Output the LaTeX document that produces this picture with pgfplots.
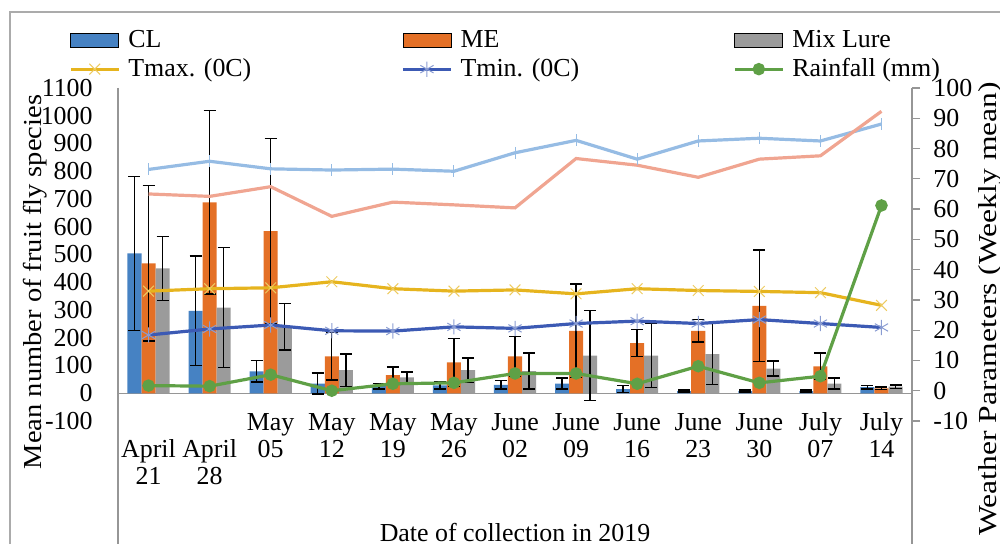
\documentclass[border=0pt]{standalone}
\usepackage{fontspec}
\setmainfont{Liberation Serif}
\usepackage{graphicx}
\usepackage{pgfplots}
\pgfplotsset{compat=1.18}
\definecolor{clblue}{RGB}{70,130,195}
\definecolor{meorange}{RGB}{228,112,38}
\definecolor{mixgray}{RGB}{155,155,155}
\definecolor{tmaxc}{RGB}{230,180,30}
\definecolor{tminc}{RGB}{60,90,180}
\definecolor{rainc}{RGB}{95,160,70}
\definecolor{lblue}{RGB}{150,188,228}
\definecolor{salmon}{RGB}{240,165,145}
\definecolor{axisgray}{RGB}{150,150,150}
\newcommand\ff{\fontsize{13}{13.5}\selectfont}
\pgfplotsset{
  barleg/.style={legend image code/.code={\fill[##1] (0bp,-3.5bp) rectangle (24bp,3.5bp);}},
  lineleg/.style={legend image code/.code={\draw[mark repeat=2,mark phase=2,##1] plot coordinates {(0bp,0bp) (12bp,0bp) (24bp,0bp)};}},
}
\pgfplotstableread{
x CL CLe ME MEe Mix Mixe
0 504 277 468 280 450 115
1 297 197 688 330 309 216
2 79 38 584 335 240 84
3 35 38 133 85 83 58
4 26 10 65 30 57 20
5 28 12 111 86 83 44
6 30 15 133 72 80 65
7 35 20 225 168 136 163
8 15 12 181 48 136 115
9 8 4 225 41 141 110
10 8 4 315 201 89 27
11 8 4 97 48 35 20
12 22 6 18 5 24 6
}\bars
\pgfplotstableread{
x Tmax Tmin Rain RHa RHb
0 32.9 18.4 1.7 73.1 65.0
1 33.7 20.4 1.5 75.8 64.2
2 34.0 21.7 5.3 73.3 67.4
3 36.0 19.8 0.0 72.9 57.6
4 33.7 19.7 2.3 73.2 62.3
5 32.9 21.1 2.6 72.5 61.4
6 33.3 20.6 5.7 78.6 60.4
7 32.0 22.2 5.7 82.7 76.7
8 33.7 23.0 2.3 76.5 74.5
9 33.1 22.2 8.1 82.5 70.5
10 32.8 23.5 2.6 83.4 76.5
11 32.4 22.2 4.8 82.5 77.6
12 28.2 20.9 61.2 88.1 92.3
}\weather
\begin{document}
\begin{tikzpicture}[x=1bp,y=1bp]
\path[use as bounding box] (0,0) rectangle (500,272);
\draw[axisgray!80, line width=0.6bp] (5,0) -- (5,266) -- (500,266);
\begin{axis}[name=ax1, at={(59bp,61.5bp)}, anchor=south west, scale only axis,
  width=397bp, height=166.5bp,
  xmin=-0.5, xmax=12.5, ymin=-100, ymax=1100,
  axis x line*=bottom, axis y line*=left, axis line style={draw=none},
  major tick length=0pt,
  xtick={0,...,12},
  xticklabels={{\strut\\April\\21},{\strut\\April\\28},{\strut May\\05},{\strut May\\12},{\strut May\\19},{\strut May\\26},{\strut June\\02},{\strut June\\09},{\strut June\\16},{\strut June\\23},{\strut June\\30},{\strut July\\07},{\strut July\\14}},
  xticklabel style={anchor=north, align=center, inner sep=0pt, yshift=5bp, font=\ff},
  ytick={-100,0,...,1100},
  yticklabel style={anchor=east, inner sep=0pt, xshift=-12.5bp, font=\ff},
  /pgf/number format/assume math mode=true,
  /pgf/number format/1000 sep={},
  ybar=0pt, bar width=0.23,
  error bars/y dir=both, error bars/y explicit,
  error bars/error bar style={black, line width=0.7bp},
  error bars/error mark options={black, line width=0.7bp, mark size=3bp, rotate=90},
  clip=false]
\draw[axisgray, line width=0.6bp] (axis cs:-0.5,0) -- (axis cs:12.5,0);
\addplot[fill=clblue, draw=none] table[x=x, y=CL, y error=CLe] {\bars};
\addplot[fill=meorange, draw=none] table[x=x, y=ME, y error=MEe] {\bars};
\addplot[fill=mixgray, draw=none] table[x=x, y=Mix, y error=Mixe] {\bars};
\end{axis}
\begin{axis}[name=ax2, at={(59bp,61.5bp)}, anchor=south west, scale only axis,
  width=397bp, height=166.5bp,
  xmin=-0.5, xmax=12.5, ymin=-10, ymax=100,
  axis x line=none, axis y line*=right, axis line style={draw=none},
  ytick={-10,0,...,100}, tick align=outside, major tick length=4bp,
  ytick style={axisgray, line width=0.6bp},
  yticklabel style={anchor=west, inner sep=0pt, xshift=6.5bp, font=\ff},
  /pgf/number format/assume math mode=true,
  clip=false,
  legend columns=3, legend cell align=left,
  legend style={at={(axis description cs:-0.062,1.186)}, anchor=north west, draw=none, fill=none, font=\ff, inner sep=0pt, row sep=0pt,
    /tikz/every odd column/.append style={column sep=2bp},
    /tikz/column 2/.style={column sep=73bp},
    /tikz/column 4/.style={column sep=75bp}},
  ]
\addlegendimage{barleg, fill=clblue}\addlegendentry{CL}
\addlegendimage{barleg, fill=meorange}\addlegendentry{ME}
\addlegendimage{barleg, fill=mixgray}\addlegendentry{Mix Lure}
\addplot[forget plot, lblue, line width=1.6bp, mark=|, mark size=3bp, mark options={line width=0.5bp}] table[x=x, y=RHa] {\weather};
\addplot[forget plot, salmon, line width=1.6bp] table[x=x, y=RHb] {\weather};
\addplot[lineleg, tmaxc, line width=1.6bp, mark=x, mark size=3.8bp, mark options={line width=0.5bp, draw=tmaxc!70!white}] table[x=x, y=Tmax] {\weather};
\addlegendentry{Tmax. (0C)}
\addplot[lineleg, tminc, line width=1.6bp, mark=asterisk, mark size=3.8bp, mark options={line width=0.5bp, draw=tminc!60!white}] table[x=x, y=Tmin] {\weather};
\addlegendentry{Tmin. (0C)}
\addplot[lineleg, rainc, line width=1.6bp, mark=*, mark size=2.3bp, mark options={fill=rainc, draw=rainc}] table[x=x, y=Rain] {\weather};
\addlegendentry{Rainfall (mm)}
\end{axis}
\draw[axisgray, line width=0.6bp] (ax1.north west) -- (ax1.north west |- 0,0);
\draw[axisgray, line width=0.6bp] (ax1.north east) -- (ax1.north east |- 0,0);
\node[font=\ff] at (257.5,6) {Date of collection in 2019};
\node[font=\ff, rotate=90] at (17.5,131) {\scalebox{1.1}[1]{Mean number of fruit fly species}};
\node[font=\ff, rotate=90, anchor=east] at (495,234.5) {\scalebox{1.22}[1]{Weather Parameters (Weekly mean)}};
\end{tikzpicture}
\end{document}
